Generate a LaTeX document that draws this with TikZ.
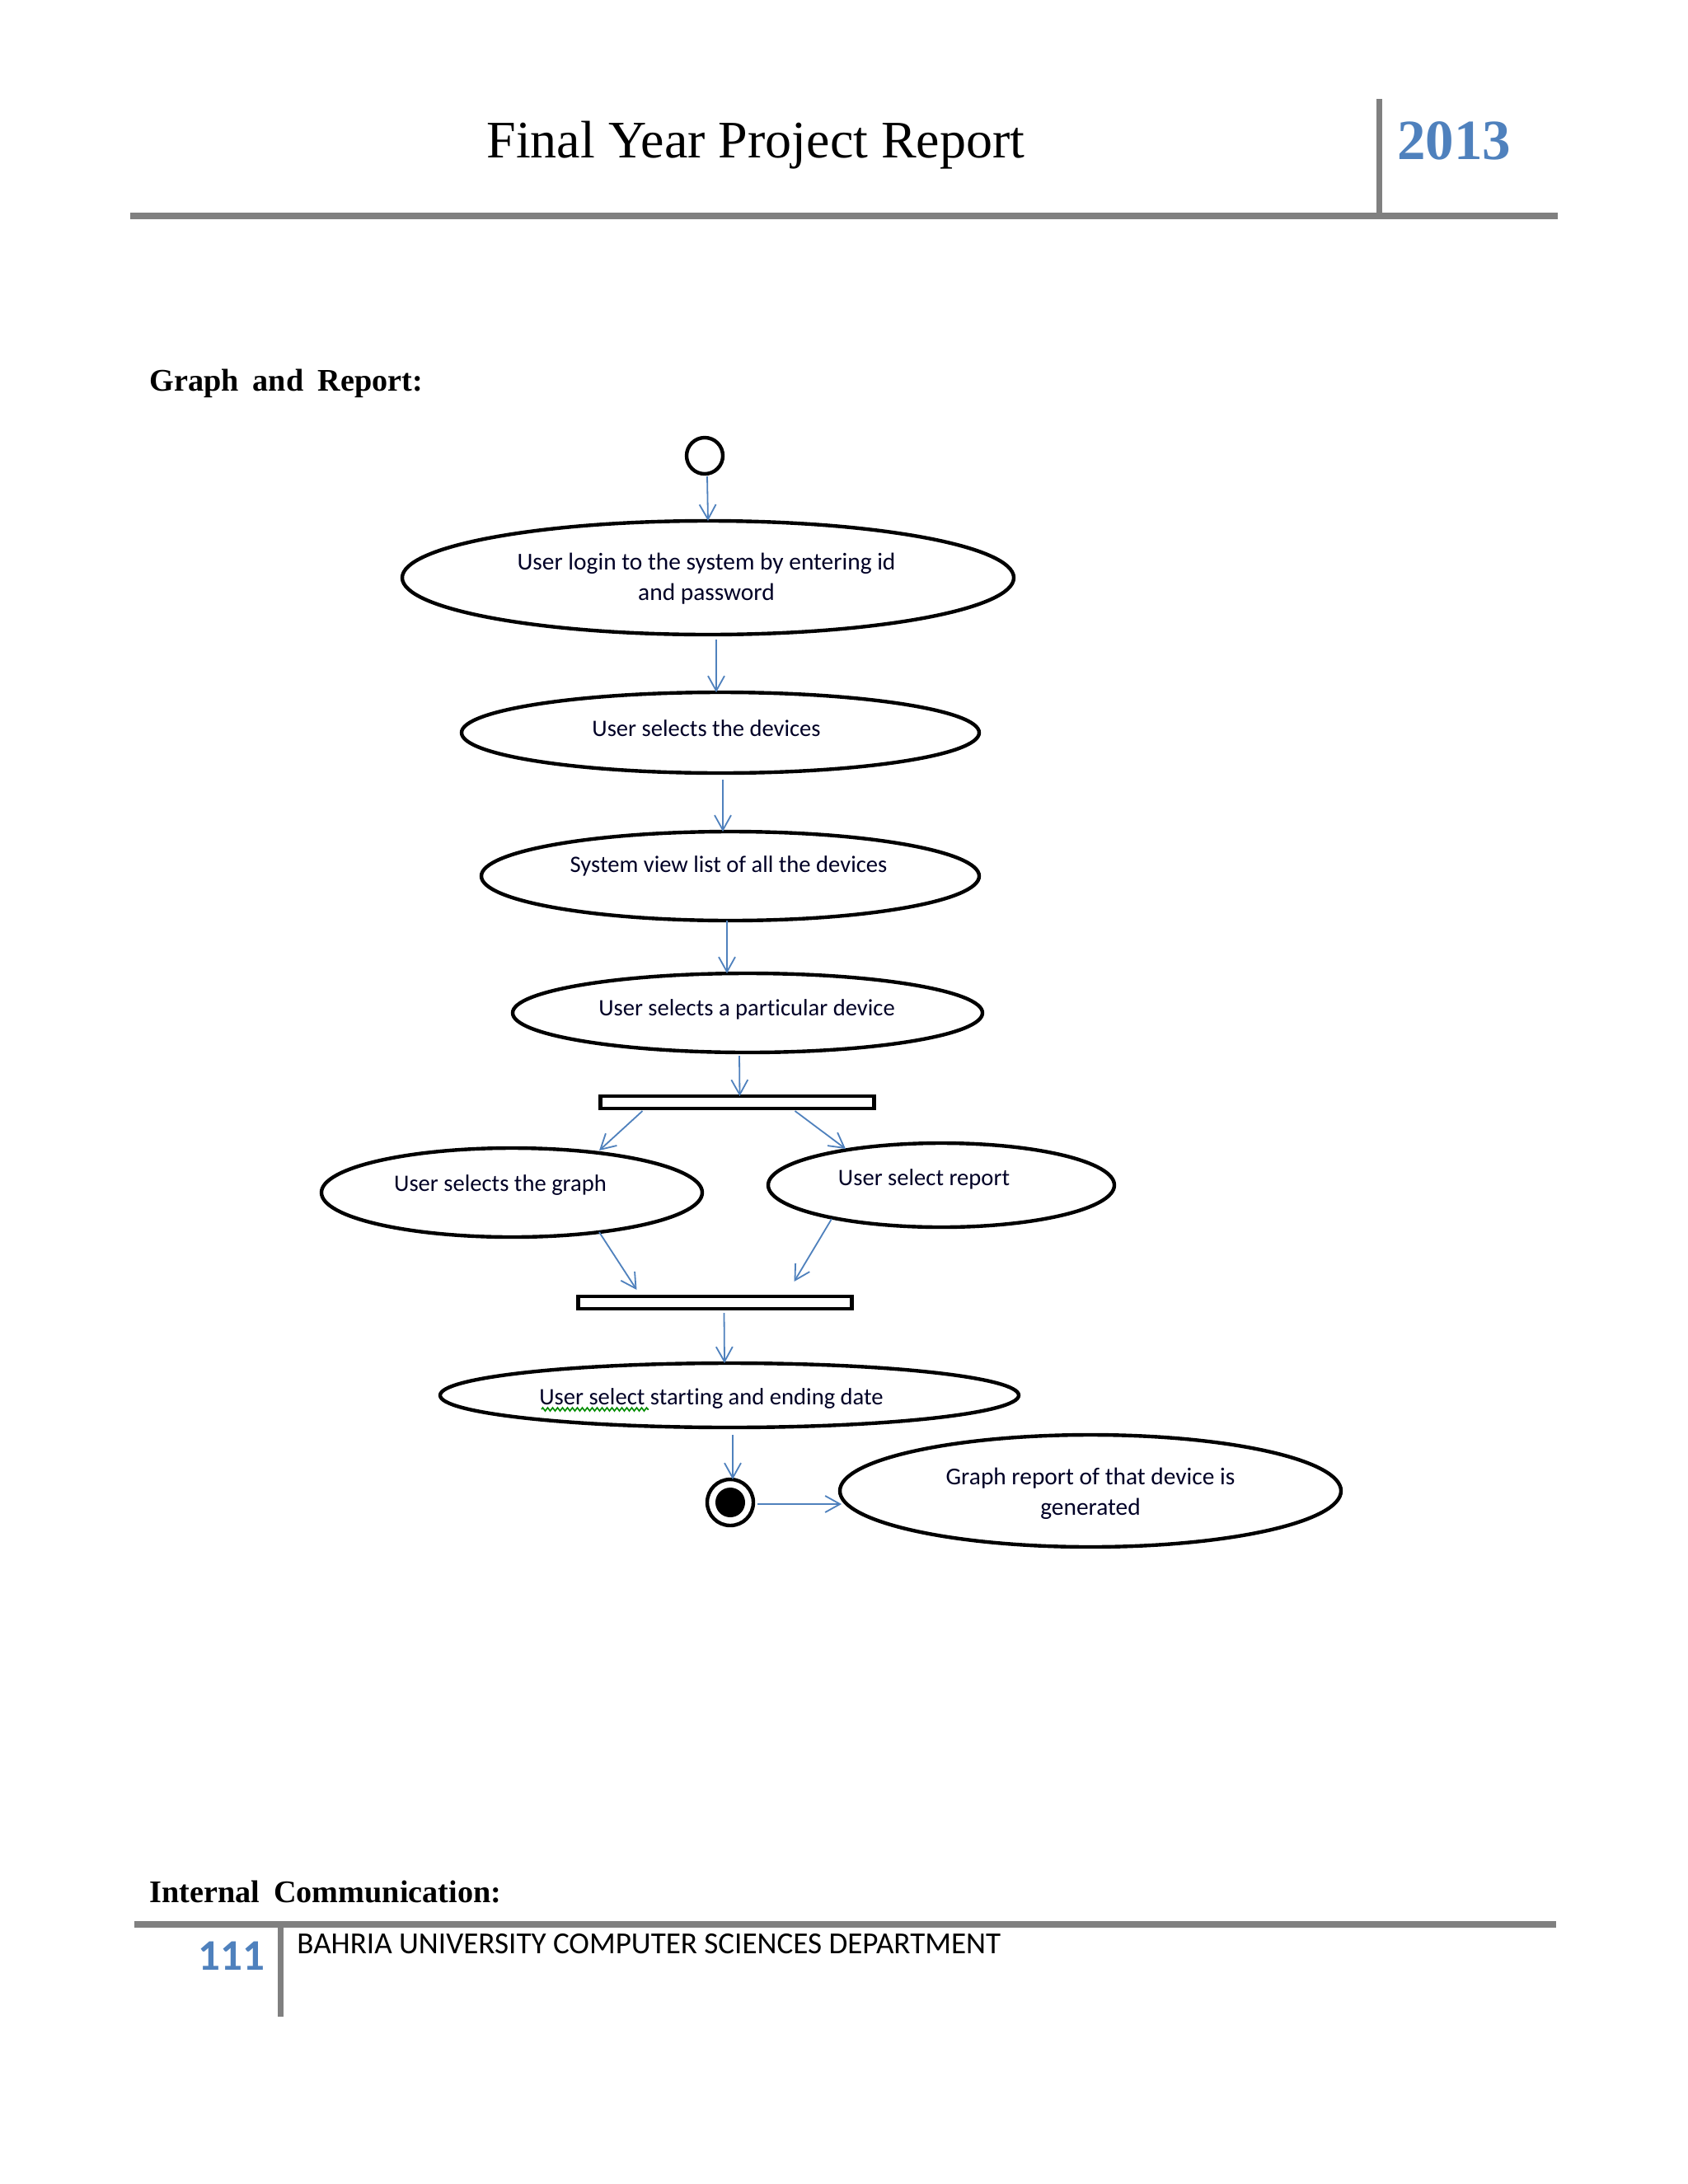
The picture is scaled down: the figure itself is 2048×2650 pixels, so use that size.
\documentclass[tikz,border=0pt]{standalone}
\usepackage{fontspec}
\setmainfont{Liberation Serif}
\newfontfamily\carl[Ligatures=NoCommon]{Carlito}
\usetikzlibrary{shapes.geometric,arrows.meta,decorations.pathmorphing}
\definecolor{flowblue}{HTML}{4F81BD}
\definecolor{rulegray}{HTML}{808080}
\newcommand\widegap{\spaceskip=0.45em\relax}
\tikzset{
  act/.style 2 args={ellipse,draw=black,line width=2.2pt,fill=white,inner sep=0pt,outer sep=0pt,minimum width=#1*0.5pt,minimum height=#2*0.5pt},
  acttext/.style={inner sep=0pt,align=center,text=black!85!blue,font=\carl\fontsize{14.3}{18.5}\selectfont,text height=9pt,text depth=3pt},
  twoline/.style={inner sep=0pt,align=center,text=black!85!blue,font=\carl\fontsize{14.7}{18.5}\selectfont},
  forkbar/.style={rectangle,draw=black,line width=2.2pt,fill=white,inner sep=0pt,outer sep=0pt,minimum width=166pt,minimum height=7.5pt},
  flow/.style={draw=flowblue,line width=0.9pt,-{Straight Barb[length=9pt,width=10pt,line width=0.9pt]}},
  headrule/.style={draw=rulegray,line width=4pt},
  siderule/.style={draw=rulegray,line width=3.5pt},
  sectionhead/.style={inner sep=0pt,anchor=base west,font=\bfseries\fontsize{19.1}{22}\selectfont},
}
\begin{document}
\begin{tikzpicture}[x=0.5pt,y=-0.5pt]
\useasboundingbox[fill=white] (0,0) rectangle (2048,2650);
% header
\coordinate (hl) at (158,262); \coordinate (hr) at (1890,262);
\coordinate (vt) at (1673,120); \coordinate (vb) at (1673,262);
\draw[siderule] (vt) -- (vb);
\draw[headrule] (hl) -- (hr);
\node[inner sep=0pt,font=\fontsize{32}{36}\selectfont] (title) at (917,176) {Final Year Project Report};
\node[inner sep=0pt,text=flowblue,font=\bfseries\fontsize{34.5}{38}\selectfont] (year) at (1764,171) {2013};
\node[sectionhead] (sec1) at (181,474) {\widegap Graph and Report:};
% diagram
\node[circle,draw=black,line width=2.2pt,minimum size=22pt,inner sep=0pt,outer sep=0pt] (start) at (855,553) {};
\node[act={742}{138}] (login) at (859,701) {};
\node[twoline] (logint) at (857,702.5) {User login to the system by entering id\\and password};
\node[act={628}{98}] (devs) at (874,889) {};
\node[acttext] (devst) at (857,887) {User selects the devices};
\node[act={604}{108}] (list) at (886,1063) {};
\node[acttext] (listt) at (884,1052) {System view list of all the devices};
\node[act={570}{96}] (part) at (907,1229) {};
\node[acttext] (partt) at (906,1226) {User selects a particular device};
\node[forkbar] (bara) at (894.5,1337.5) {};
\node[act={462}{108}] (graph) at (621,1447) {};
\node[acttext] (grapht) at (607,1439) {User selects the graph};
\node[act={420}{102}] (report) at (1142,1438) {};
\node[acttext] (reportt) at (1121,1432) {User select report};
\node[forkbar] (barb) at (867.5,1580.5) {};
\node[act={702}{78}] (date) at (885,1693) {};
\node[acttext] (datet) at (863,1698) {User select starting and ending date};
\coordinate (wa) at (657,1710); \coordinate (wb) at (787,1710);
\draw[draw=green!55!black,line width=0.8pt,decorate,decoration={zigzag,amplitude=1pt,segment length=3pt}] (wa) -- (wb);
\node[circle,draw=black,line width=2.2pt,minimum size=28pt,inner sep=0pt,outer sep=0pt] (stop) at (886,1823) {};
\node[circle,fill=black,minimum size=18pt,inner sep=0pt] (stopi) at (886,1823) {};
\node[act={608}{136}] (gen) at (1323,1809) {};
\node[twoline] (gent) at (1323,1812.5) {Graph report of that device is\\generated};
% connectors
\draw[flow] ([shift={(3,3)}]start.south) -- (login.north);
\draw[flow] ([shift={(10,6)}]login.south) -- ([xshift=-2.5pt]devs.north);
\draw[flow] ([shift={(3,8)}]devs.south) -- ([xshift=-4.5pt]list.north);
\draw[flow] ([xshift=-2pt]list.south) -- ([xshift=-12.5pt]part.north);
\draw[flow] ([shift={(-10,4)}]part.south) -- ([xshift=1.5pt]bara.north);
\draw[flow] ([shift={(-115,3)}]bara.south) -- ([shift={(106,3)}]graph.north);
\draw[flow] ([shift={(70,3)}]bara.south) -- ([shift={(-116,7)}]report.north);
\draw[flow] ([shift={(106,-6)}]graph.south) -- ([shift={(-95,-8)}]barb.north);
\draw[flow] ([shift={(-133,-10)}]report.south) -- ([shift={(96,-18)}]barb.north);
\draw[flow] ([shift={(11,5)}]barb.south) -- ([xshift=-3pt]date.north);
\draw[flow] ([shift={(4,9)}]date.south) -- ([xshift=1.5pt]stop.north);
\draw[flow] ([shift={(5,2)}]stop.east) -- ([shift={(2,16)}]gen.west);
% footer
\node[sectionhead] (sec2) at (181,2308) {\widegap Internal Communication:};
\coordinate (fl) at (163,2335); \coordinate (fr) at (1888,2335);
\coordinate (ft) at (340,2335); \coordinate (fb) at (340,2447);
\draw[headrule] (fl) -- (fr);
\draw[siderule] (ft) -- (fb);
\node[inner sep=0pt,text=flowblue,font=\carl\bfseries\fontsize{26.5}{30}\selectfont] (page) at (281,2373) {111};
\node[inner sep=0pt,anchor=west,font=\carl\fontsize{18.55}{22}\selectfont] (dept) at (360,2359) {BAHRIA UNIVERSITY COMPUTER SCIENCES DEPARTMENT};
\end{tikzpicture}
\end{document}
